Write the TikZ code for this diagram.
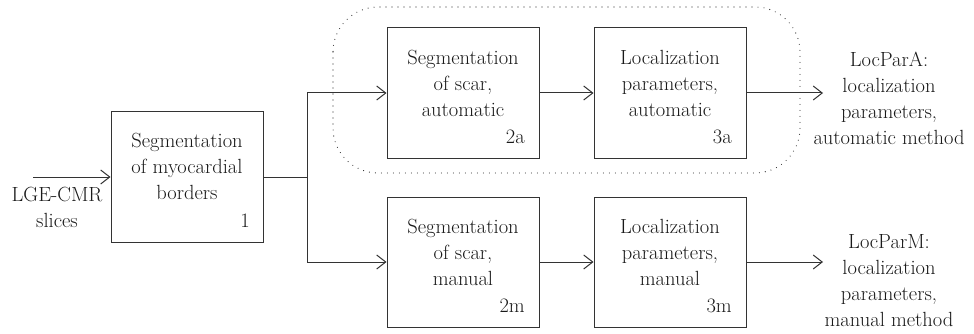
\documentclass[tikz,border=0pt]{standalone}
\usetikzlibrary{arrows.meta}
\begin{document}
\begin{tikzpicture}[x=1pt,y=-1pt,
  every node/.style={font=\fontsize{20.5}{26}\selectfont, text=black!90},
  stagebox/.style={draw=black!80, line width=1pt, minimum width=152pt, minimum height=130pt, inner sep=0pt},
  conn/.style={draw=black!80, line width=1pt},
  arr/.style={conn, -{Straight Barb[length=9pt,width=14pt,line width=1pt]}},
  txt/.style={align=center, inner sep=0pt},
  num/.style={anchor=base east, inner sep=0pt}]
\useasboundingbox (0,0) rectangle (974,334);
% dotted group
\draw[black!85, line width=1.1pt, line cap=round, dash pattern=on 0pt off 6pt, rounded corners=45pt]
  (333,7) rectangle (800,173);
% boxes
\node[stagebox] (b1) at (187,177) {};
\node[stagebox] (b2a) at (463,93) {};
\node[stagebox] (b3a) at (670,93) {};
\node[stagebox] (b2m) at (463,262) {};
\node[stagebox] (b3m) at (670,262) {};
% box texts
\node[txt] (t1) at (187,166) {Segmentation\\of myocardial\\borders};
\node[txt] (t2a) at (463,83) {Segmentation\\of scar,\\automatic};
\node[txt] (t3a) at (670,83) {Localization\\parameters,\\automatic};
\node[txt] (t2m) at (463,252) {Segmentation\\of scar,\\manual};
\node[txt] (t3m) at (670,252) {Localization\\parameters,\\manual};
% numbers
\node[num] (n1) at (250,227) {1};
\node[num] (n2a) at (525,143) {2a};
\node[num] (n3a) at (732,143) {3a};
\node[num] (n2m) at (525,312) {2m};
\node[num] (n3m) at (732,312) {3m};
% input
\coordinate (in) at (33,177);
\node[txt] (lge) at (57,207) {LGE-CMR\\slices};
\draw[arr] (in) -- (b1.west);
% branch
\coordinate (br) at (307,177);
\draw[conn] (b1.east) -- (br);
\draw[arr] (br) |- (b2a.west);
\draw[arr] (br) |- (b2m.west);
\draw[arr] (b2a.east) -- (b3a.west);
\draw[arr] (b2m.east) -- (b3m.west);
% outputs
\coordinate (oa) at (823,93);
\coordinate (om) at (823,262);
\draw[arr] (b3a.east) -- (oa);
\draw[arr] (b3m.east) -- (om);
\node[txt] (la) at (889,98) {LocParA:\\localization\\parameters,\\automatic method};
\node[txt] (lm) at (889,281) {LocParM:\\localization\\parameters,\\manual method};
\end{tikzpicture}
\end{document}
